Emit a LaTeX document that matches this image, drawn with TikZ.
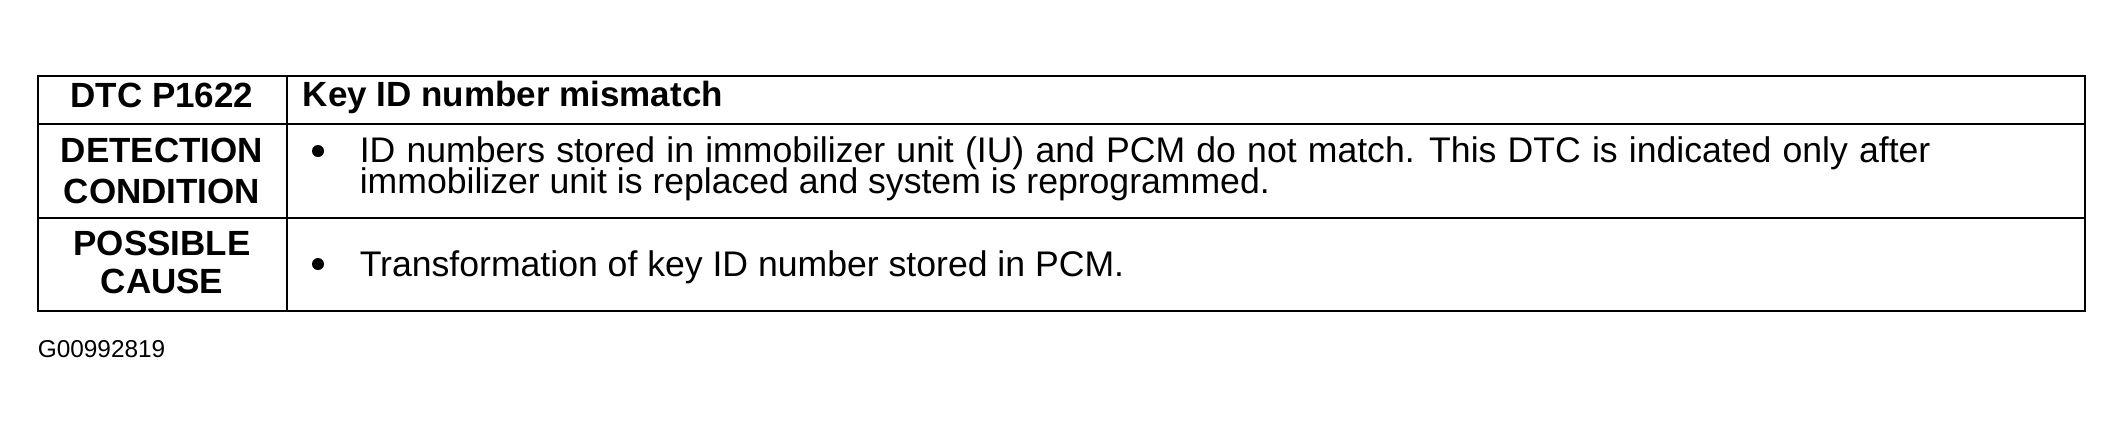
\documentclass[tikz,border=0pt]{standalone}
\usepackage{fontspec}
\setmainfont{Liberation Sans}
\begin{document}
\begin{tikzpicture}[x=0.25pt, y=-0.25pt,
                    grid/.style={line width=0.7pt, black},
                    head_label/.style={anchor=base, inner sep=0, font=\bfseries\fontsize{8.75}{10}\selectfont},
                    body_label/.style={anchor=base west, inner sep=0, font=\fontsize{8.9}{10}\selectfont},
                    bullet_mark/.style={circle, fill=black, inner sep=0, minimum size=3pt}
                    ]
        \useasboundingbox (0,0) rectangle (2124,433);
        % table frame and rules
        \draw[grid] (38,76) rectangle (2085,311);
        \draw[grid] (38,124) -- (2085,124);
        \draw[grid] (38,218) -- (2085,218);
        \draw[grid] (287,76) -- (287,311);

        % left column
        \node[head_label] (dtc) at (162,107) {DTC P1622};
        \node[head_label] (det) at (162,162) {DETECTION};
        \node[head_label] (cond) at (162,203) {CONDITION};
        \node[head_label] (poss) at (162,255) {POSSIBLE};
        \node[head_label] (cause) at (162,293) {CAUSE};

        % right column
        \node[head_label, anchor=base west] (title) at (302,106) {Key ID number mismatch};
        \node[bullet_mark] (b1) at (318,151) {};
        \node[body_label] (l1) at (359,162) {\spaceskip=2.8pt ID numbers stored in immobilizer unit (IU) and PCM do not match. This DTC is indicated only after};
        \node[body_label] (l2) at (359,193) {immobilizer unit is replaced and system is reprogrammed.};
        \node[bullet_mark] (b2) at (318,264) {};
        \node[body_label] (l3) at (359,276) {Transformation of key ID number stored in PCM.};

        \node[anchor=base west, inner sep=0, font=\fontsize{6.1}{7}\selectfont] (code) at (37,357) {G00992819};
\end{tikzpicture}
\end{document}
